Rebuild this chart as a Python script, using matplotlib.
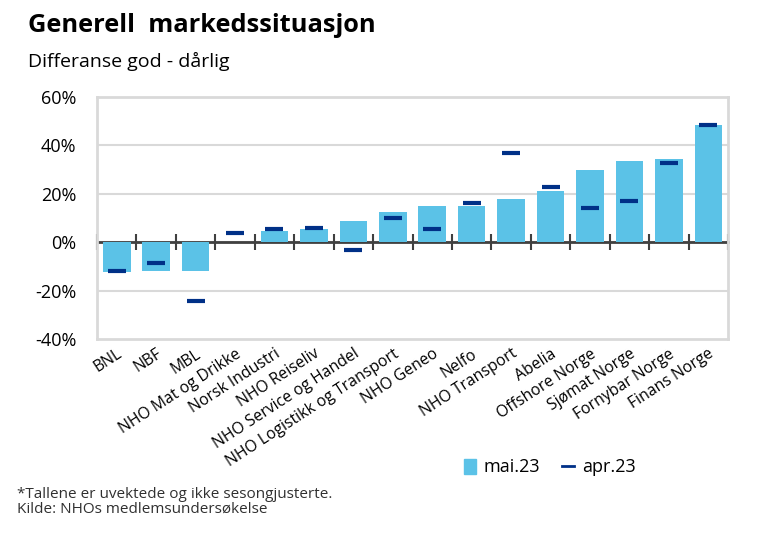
import matplotlib
matplotlib.use("Agg")
import matplotlib.pyplot as plt
import numpy as np
from matplotlib.patches import Patch
from matplotlib.lines import Line2D
from matplotlib.ticker import FuncFormatter, FixedLocator

plt.rcParams['font.family'] = ['Open Sans', 'DejaVu Sans']

categories = ["BNL", "NBF", "MBL", "NHO Mat og Drikke", "Norsk Industri", "NHO Reiseliv",
              "NHO Service og Handel", "NHO Logistikk og Transport", "NHO Geneo", "Nelfo",
              "NHO Transport", "Abelia", "Offshore Norge", "Sjømat Norge", "Fornybar Norge",
              "Finans Norge"]
mai23 = [-12.5, -11.8, -11.8, 0.0, 4.5, 5.5, 8.8, 12.4, 15.0, 15.0, 17.7, 21.2, 29.9, 33.4, 34.2, 48.3]
apr23 = [-12.0, -8.5, -24.2, 3.9, 5.6, 5.7, -3.1, 9.9, 5.5, 16.1, 37.0, 23.0, 14.3, 16.9, 32.7, 48.4]
yticks = [-40, -20, 0, 20, 40, 60]

bar_color = "#5BC2E7"
mark_color = "#003087"
grid_color = "#D9D9D9"

fig = plt.figure(figsize=(7.74, 5.33), dpi=100)
ax = fig.add_axes([0.1253, 0.364, 0.8153, 0.454])

x = np.arange(len(categories))
ax.bar(x, mai23, width=0.7, color=bar_color, linewidth=0, zorder=2)
ax.scatter(x, apr23, marker="_", s=150, linewidths=3, color=mark_color, zorder=3)

ax.set_xlim(-0.5, len(categories) - 0.5)
ax.set_ylim(-40, 60)
ax.set_yticks(yticks)
ax.yaxis.set_major_formatter(FuncFormatter(lambda v, p: f"{int(v)}%"))
ax.tick_params(axis='y', length=0, labelsize=13, pad=15, labelcolor="#000000")
for v in yticks[1:-1]:
    ax.axhline(v, color=grid_color, linewidth=1.5, zorder=0)

for s in ax.spines.values():
    s.set_color(grid_color)
    s.set_linewidth(2)

ax.set_xticks(x)
ax.set_xticklabels(categories, rotation=33, ha='right', rotation_mode='anchor', fontsize=11.3)
ax.tick_params(axis='x', length=0, pad=5)

# zero line with category boundary ticks
zero_frac = (0 - (-40)) / 100
sec = ax.secondary_xaxis(zero_frac)
sec.xaxis.set_major_locator(FixedLocator(np.arange(-0.5, len(categories), 1.0)))
sec.tick_params(axis='x', direction='inout', length=12, width=1.5, color="#404040", labelbottom=False, labeltop=False)
for name, s in sec.spines.items():
    s.set_color("#404040")
    s.set_linewidth(2)

fig.text(0.036, 0.953, "Generell  markedssituasjon", fontsize=18.3, fontweight='bold', ha='left', va='center')
fig.text(0.036, 0.885, "Differanse god - dårlig", fontsize=14, ha='left', va='center')

handles = [Patch(facecolor=bar_color, edgecolor=bar_color),
           Line2D([0], [0], color=mark_color, linewidth=2)]
fig.legend(handles, ["mai.23", "apr.23"], loc='center', bbox_to_anchor=(0.71, 0.123),
           ncol=2, frameon=False, fontsize=13, handlelength=0.7, handleheight=0.9,
           columnspacing=1.2, handletextpad=0.4)

fig.text(0.022, 0.058, "*Tallene er uvektede og ikke sesongjusterte.\nKilde: NHOs medlemsundersøkelse",
         fontsize=11, color="#303030", ha='left', va='center', linespacing=0.95)

fig.savefig("out.png", dpi=100)
